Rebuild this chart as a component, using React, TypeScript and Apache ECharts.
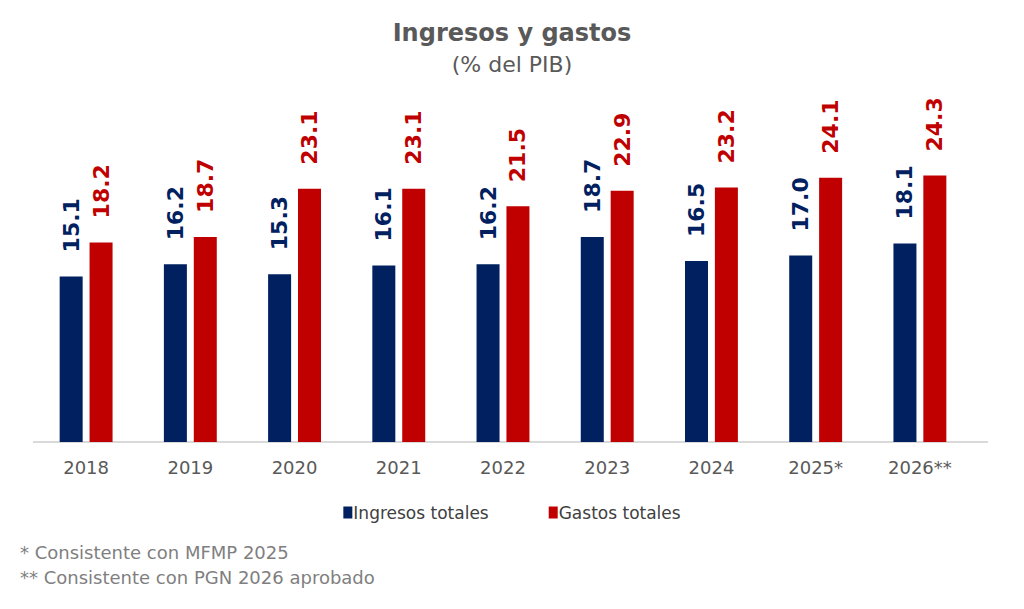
import React, { useEffect, useRef } from "react";
import * as echarts from "echarts";

const categories = ["2018", "2019", "2020", "2021", "2022", "2023", "2024", "2025*", "2026**"];
const ingresos = [15.1, 16.2, 15.3, 16.1, 16.2, 18.7, 16.5, 17.0, 18.1];
const gastos = [18.2, 18.7, 23.1, 23.1, 21.5, 22.9, 23.2, 24.1, 24.3];
const footnotes = ["* Consistente con MFMP 2025", "** Consistente con PGN 2026 aprobado"];

const FONT = "'DejaVu Sans', Verdana, sans-serif";

export default function App() {
  const ref = useRef<HTMLDivElement>(null);
  useEffect(() => {
    if (!ref.current) return;
    const chart = echarts.init(ref.current, undefined, { renderer: "svg" });
    const label = (color: string) => ({
      show: true,
      position: "top",
      rotate: 90,
      align: "left",
      verticalAlign: "middle",
      distance: 24,
      color,
      fontFamily: FONT,
      fontWeight: "bold",
      fontSize: 22,
      formatter: (p: any) => Number(p.value).toFixed(1),
    });
    chart.setOption({
      animation: false,
      backgroundColor: "#ffffff",
      title: {
        text: "Ingresos y gastos",
        subtext: "(% del PIB)",
        left: "center",
        top: 16,
        itemGap: 8,
        textStyle: { fontFamily: FONT, fontWeight: "bold", fontSize: 24, color: "#595959" },
        subtextStyle: { fontFamily: FONT, fontSize: 22, color: "#595959" },
      },
      legend: {
        bottom: 83,
        left: "center",
        itemWidth: 9,
        itemHeight: 12,
        itemGap: 60,
        icon: "rect",
        textStyle: { fontFamily: FONT, fontSize: 17, color: "#404040", padding: [0, 0, 0, -4] },
        data: ["Ingresos totales", "Gastos totales"],
      },
      grid: { left: 34, right: 52, top: 113, bottom: 167 },
      xAxis: {
        type: "category",
        data: categories,
        axisLine: { show: false },
        axisTick: { show: false },
        axisLabel: { fontFamily: FONT, fontSize: 18, color: "#595959", margin: 16 },
      },
      yAxis: { type: "value", min: 0, max: 30, show: false, splitLine: { show: false } },
      graphic: [
        {
          type: "line",
          shape: { x1: 33, y1: 442, x2: 988, y2: 442 },
          style: { stroke: "#D9D9D9", lineWidth: 2 },
          z: 0,
        },
        ...footnotes.map((t, i) => ({
          type: "text",
          left: 20,
          top: 543 + i * 25,
          style: { text: t, fontFamily: FONT, fontSize: 18, fill: "#7F7F7F" },
        })),
      ],
      series: [
        {
          name: "Ingresos totales",
          type: "bar",
          data: ingresos,
          barWidth: 23,
          barGap: "30%",
          itemStyle: { color: "#002060" },
          label: label("#002060"),
          z: 2,
        },
        {
          name: "Gastos totales",
          type: "bar",
          data: gastos,
          barWidth: 23,
          barGap: "30%",
          itemStyle: { color: "#C00000" },
          label: label("#C00000"),
          z: 2,
        },
      ],
    });
    return () => chart.dispose();
  }, []);
  return <div ref={ref} style={{ width: 1024, height: 609, position: "absolute", left: 0, top: 0 }} />;
}
